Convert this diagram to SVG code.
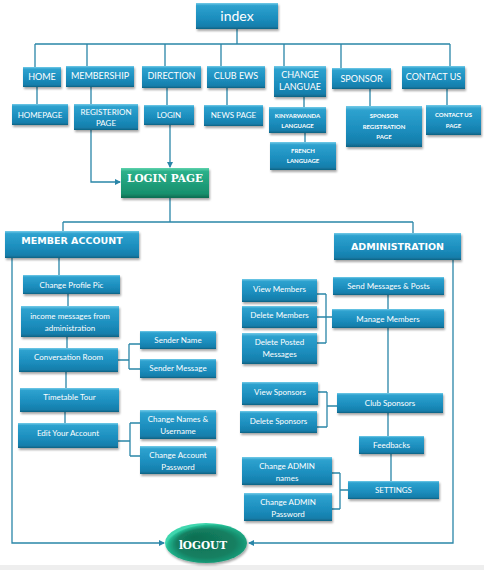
<svg xmlns="http://www.w3.org/2000/svg" width="484" height="570" viewBox="0 0 484 570">
<defs>
<linearGradient id="gb" x1="0" y1="0" x2="0" y2="1">
<stop offset="0" stop-color="#74cbe8"/>
<stop offset="0.1" stop-color="#2ea2cf"/>
<stop offset="0.6" stop-color="#1b8dbd"/>
<stop offset="0.9" stop-color="#167eab"/>
<stop offset="1" stop-color="#0f6283"/>
</linearGradient>
<linearGradient id="gg" x1="0" y1="0" x2="0" y2="1">
<stop offset="0" stop-color="#5fd3ad"/>
<stop offset="0.12" stop-color="#2bb08a"/>
<stop offset="0.85" stop-color="#17906d"/>
<stop offset="1" stop-color="#0d6b50"/>
</linearGradient>
<radialGradient id="ge" cx="0.6" cy="0.62" r="0.6" fx="0.35" fy="0.35">
<stop offset="0" stop-color="#0f6e51"/>
<stop offset="0.6" stop-color="#138062"/>
<stop offset="0.9" stop-color="#22b890"/>
<stop offset="1" stop-color="#3fd6ae"/>
</radialGradient>
<filter id="sh" x="-10%" y="-10%" width="130%" height="150%">
<feDropShadow dx="1" dy="2" stdDeviation="1.2" flood-color="#000" flood-opacity="0.35"/>
</filter>
<marker id="ar" markerWidth="6" markerHeight="6" refX="5" refY="3" orient="auto" markerUnits="userSpaceOnUse">
<path d="M0,0 L6,3 L0,6 z" fill="#2a86a8"/>
</marker>
<style>
.b{fill:url(#gb);filter:url(#sh)}
.g{fill:url(#gg);filter:url(#sh)}
.t{fill:#fff;font-family:Lato,"Open Sans",sans-serif;font-size:8px;text-anchor:middle}
.u{fill:#fff;font-family:Lato,"Open Sans",sans-serif;font-size:9px;text-anchor:middle}
.s{fill:#fff;font-family:Lato,"Open Sans",sans-serif;font-size:6px;font-weight:bold;text-anchor:middle}
.h{fill:#fff;font-family:"DejaVu Sans",sans-serif;font-size:9.5px;font-weight:bold;text-anchor:middle}
.k{fill:#fff;font-family:"DejaVu Serif",serif;font-size:10px;font-weight:bold;text-anchor:middle}
.c path{fill:none;stroke:#2a86a8;stroke-width:1.3}
</style>
</defs>
<rect x="0" y="0" width="484" height="570" fill="#fff"/>
<rect x="0" y="565" width="484" height="5" fill="#eeeeee"/>

<g class="c" id="connectors">
<path d="M237 29 V44 M35 44 H450 M35 44 V67 M87 44 V66 M165 44 V66 M221 44 V66 M284 44 V66 M341 44 V68 M450 44 V66"/>
<path d="M37 87 V104 M91 87 V104 M167 88 V105 M227 88 V105 M304 97 V107 M305 133 V142 M370 89 V106 M447 89 V105"/>
<path d="M170 125 V167" marker-end="url(#ar)"/>
<path d="M91 130 V182 H120" marker-end="url(#ar)"/>
<path d="M170 198 V222 M63 222 H413 M63 222 V231 M413 222 V233"/>
<path d="M12 258 V543 H164" marker-end="url(#ar)"/>
<path d="M453 260 V543 H249" marker-end="url(#ar)"/>
<path d="M59 258 V275 M68 294 V306 M67 337 V348 M66 372 V388 M65 412 V423"/>
<path d="M118 360 H129 M129 344 V369 M129 344 H140 M129 369 H140"/>
<path d="M118 441 H130 M130 423 V456 M130 423 H140 M130 456 H140"/>
<path d="M388 295 V309 M388 328 V393 M388 413 V436 M391 454 V481"/>
<path d="M317 294 H326 M326 294 V343 M317 343 H326 M317 317 H332"/>
<path d="M318 392 H327 M327 392 V427 M317 427 H327 M327 406 H337"/>
<path d="M332 473 H340 M340 473 V509 M332 509 H340 M340 490 H348"/>
</g>

<g id="index"><rect class="b" x="196" y="3" width="82" height="26"/><text class="t" style="font-size:14px" x="237" y="21">index</text></g>
<g id="home"><rect class="b" x="23" y="67" width="38" height="20"/><text class="u" x="42" y="80">HOME</text></g>
<g id="membership"><rect class="b" x="66" y="66" width="68" height="21"/><text class="u" x="100" y="79">MEMBERSHIP</text></g>
<g id="direction"><rect class="b" x="142" y="66" width="59" height="22"/><text class="u" x="171.5" y="79">DIRECTION</text></g>
<g id="clubews"><rect class="b" x="207" y="66" width="58" height="22"/><text class="u" x="236" y="79">CLUB EWS</text></g>
<g id="changelang"><rect class="b" x="274" y="66" width="52" height="31"/><text class="u" x="300" y="78">CHANGE</text><text class="u" x="300" y="90">LANGUAE</text></g>
<g id="sponsor"><rect class="b" x="332" y="68" width="59" height="21"/><text class="u" x="361.5" y="81.5">SPONSOR</text></g>
<g id="contactus"><rect class="b" x="402" y="66" width="63" height="23"/><text class="u" x="433.5" y="80">CONTACT US</text></g>

<g id="homepage"><rect class="b" x="12" y="104" width="56" height="21"/><text class="t" x="40" y="117.5">HOMEPAGE</text></g>
<g id="registerion"><rect class="b" x="74" y="104" width="64" height="26"/><text class="t" x="106" y="115">REGISTERION</text><text class="t" x="106" y="126">PAGE</text></g>
<g id="login"><rect class="b" x="144" y="105" width="50" height="20"/><text class="t" x="169" y="117.5">LOGIN</text></g>
<g id="newspage"><rect class="b" x="204" y="105" width="59" height="21"/><text class="t" x="233.5" y="118">NEWS PAGE</text></g>
<g id="kinyarwanda"><rect class="b" x="269" y="107" width="57" height="26"/><text class="s" x="297.5" y="118">KINYARWANDA</text><text class="s" x="297.5" y="128">LANGUAGE</text></g>
<g id="french"><rect class="b" x="270" y="142" width="66" height="28"/><text class="s" x="303" y="153">FRENCH</text><text class="s" x="303" y="163">LANGUAGE</text></g>
<g id="sponsorreg"><rect class="b" x="346" y="106" width="76" height="41"/><text class="s" x="384" y="118">SPONSOR</text><text class="s" x="384" y="128.5">REGISTRATION</text><text class="s" x="384" y="139">PAGE</text></g>
<g id="contactpage"><rect class="b" x="426" y="105" width="55" height="30"/><text class="s" x="453.5" y="117">CONTACT US</text><text class="s" x="453.5" y="128">PAGE</text></g>

<g id="loginpage"><rect class="g" x="121" y="168" width="88" height="30"/><text class="k" x="165" y="182" style="font-size:10.5px">LOGIN PAGE</text></g>

<g id="memberaccount"><rect class="b" x="5" y="231" width="134" height="27"/><text class="h" x="72" y="244">MEMBER ACCOUNT</text></g>
<g id="administration"><rect class="b" x="334" y="233" width="127" height="27"/><text class="h" x="397.5" y="250">ADMINISTRATION</text></g>

<g id="changeprofile"><rect class="b" x="23" y="275" width="97" height="19"/><text class="t" x="71.5" y="287.5">Change Profile Pic</text></g>
<g id="income"><rect class="b" x="21" y="306" width="98" height="31"/><text class="t" x="70" y="318.5">income messages from</text><text class="t" x="70" y="330.5">administration</text></g>
<g id="conversation"><rect class="b" x="19" y="348" width="99" height="24"/><text class="t" x="68.5" y="360">Conversation Room</text></g>
<g id="timetable"><rect class="b" x="20" y="388" width="99" height="24"/><text class="t" x="69.5" y="400">Timetable Tour</text></g>
<g id="sendername"><rect class="b" x="140" y="331" width="76" height="18"/><text class="t" x="178" y="343">Sender Name</text></g>
<g id="sendermessage"><rect class="b" x="140" y="359" width="76" height="19"/><text class="t" x="178" y="371">Sender Message</text></g>
<g id="editaccount"><rect class="b" x="18" y="423" width="100" height="25"/><text class="t" x="68" y="436">Edit Your Account</text></g>
<g id="changenames"><rect class="b" x="140" y="410" width="76" height="29"/><text class="t" x="178" y="422">Change Names &amp;</text><text class="t" x="178" y="434">Username</text></g>
<g id="changepassword"><rect class="b" x="140" y="446" width="76" height="28"/><text class="t" x="178" y="458">Change Account</text><text class="t" x="178" y="470">Password</text></g>

<g id="sendmessages"><rect class="b" x="333" y="277" width="111" height="18"/><text class="t" x="388.5" y="289">Send Messages &amp; Posts</text></g>
<g id="managemembers"><rect class="b" x="332" y="309" width="112" height="19"/><text class="t" x="388" y="321.5">Manage Members</text></g>
<g id="viewmembers"><rect class="b" x="242" y="279" width="75" height="23"/><text class="t" x="279.5" y="292">View Members</text></g>
<g id="deletemembers"><rect class="b" x="242" y="306" width="75" height="22"/><text class="t" x="279.5" y="318">Delete Members</text></g>
<g id="deleteposted"><rect class="b" x="242" y="333" width="75" height="31"/><text class="t" x="279.5" y="345">Delete Posted</text><text class="t" x="279.5" y="357">Messages</text></g>
<g id="clubsponsors"><rect class="b" x="337" y="393" width="106" height="20"/><text class="t" x="390" y="406">Club Sponsors</text></g>
<g id="viewsponsors"><rect class="b" x="242" y="382" width="76" height="23"/><text class="t" x="280" y="394.5">View Sponsors</text></g>
<g id="deletesponsors"><rect class="b" x="240" y="411" width="77" height="22"/><text class="t" x="278.5" y="423.5">Delete Sponsors</text></g>
<g id="feedbacks"><rect class="b" x="359" y="436" width="65" height="18"/><text class="t" x="391.5" y="448">Feedbacks</text></g>
<g id="settings"><rect class="b" x="348" y="481" width="91" height="18"/><text class="t" x="393.5" y="493">SETTINGS</text></g>
<g id="adminnames"><rect class="b" x="242" y="457" width="90" height="28"/><text class="t" x="287" y="469">Change ADMIN</text><text class="t" x="287" y="481">names</text></g>
<g id="adminpassword"><rect class="b" x="244" y="493" width="88" height="28"/><text class="t" x="288" y="505">Change ADMIN</text><text class="t" x="288" y="517">Password</text></g>

<g id="logout"><ellipse cx="206" cy="543" rx="41" ry="20" fill="url(#ge)" filter="url(#sh)"/><text class="k" x="203" y="549" style="font-size:10.5px">lOGOUT</text></g>
</svg>
